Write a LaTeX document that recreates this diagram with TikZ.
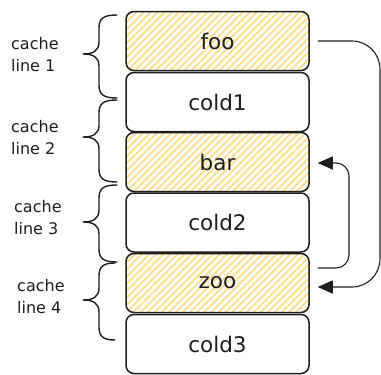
\documentclass[tikz,border=0pt]{standalone}
\usepackage{fontspec}
\setmainfont{DejaVu Sans}
\usetikzlibrary{arrows.meta,patterns.meta}
\definecolor{hatch}{RGB}{255,222,135}
\definecolor{ink}{RGB}{30,30,30}
\tikzset{
  cell/.style={draw=ink, line width=1.5pt, rounded corners=8pt, minimum width=183pt,
    minimum height=59pt, inner sep=0pt, font=\fontsize{21.5}{24}\selectfont, text=ink},
  hot/.style={cell, pattern={Lines[angle=45,distance=5pt,line width=1.8pt]}, pattern color=hatch},
  lbl/.style={align=left, anchor=north west, inner sep=0pt, font=\fontsize{16}{22}\selectfont, text=ink},
  bracestyle/.style={draw=ink, line width=1.4pt, line cap=round, line join=round},
  conn/.style={draw=ink, line width=1.1pt, -{Triangle[length=15pt,width=13pt]}}
}
\newcommand\drawbrace[4]{%
  \draw[bracestyle] (#4,#1) .. controls (104,#1) and (99,#1+3) .. (99,#1+13)
    -- (99,#2-12) .. controls (99,#2-3) and (93,#2) .. (83,#2)
    .. controls (93,#2) and (99,#2+3) .. (99,#2+12)
    -- (99,#3-13) .. controls (99,#3-3) and (104,#3) .. (#4,#3);}
\begin{document}
\begin{tikzpicture}[x=1pt,y=-1pt]
\useasboundingbox (0,0) rectangle (381,375);
\node[hot]  (foo)   at (217.5,41)  {foo};
\node[cell] (cold1) at (217.5,102) {cold1};
\node[hot]  (bar)   at (217.5,162) {bar};
\node[cell] (cold2) at (217.5,222.5) {cold2};
\node[hot]  (zoo)   at (217.5,283) {zoo};
\node[cell] (cold3) at (217.5,344) {cold3};
% braces
\drawbrace{15}{54}{98}{117}
\drawbrace{100}{137}{182}{117}
\drawbrace{185}{222}{262}{117}
\drawbrace{263}{300}{340}{115}
% labels
\node[lbl] (l1) at (11,37)  {cache\\line 1};
\node[lbl] (l2) at (11,120) {cache\\line 2};
\node[lbl] (l3) at (14,200) {cache\\line 3};
\node[lbl] (l4) at (17,279) {cache\\line 4};
% connectors
\coordinate (a1s) at ([xshift=8pt]foo.east);
\coordinate (a1e) at ([xshift=8pt,yshift=-4pt]zoo.east);
\coordinate (r1) at (380,160);
\draw[conn, rounded corners=28pt] (a1s) -| (r1) |- (a1e);
\coordinate (a2s) at ([xshift=8pt,yshift=15pt]zoo.east);
\coordinate (a2e) at ([xshift=8pt,yshift=-1pt]bar.east);
\coordinate (r2) at (349,215);
\draw[conn, rounded corners=13pt] (a2s) -| (r2) |- (a2e);
\end{tikzpicture}
\end{document}
